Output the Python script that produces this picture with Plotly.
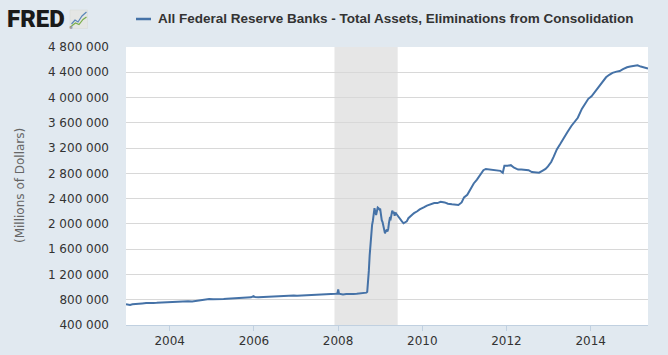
import plotly.graph_objects as go

# ---------------- data ----------------
dates = [
    "2002-12-18", "2003-01-08", "2003-01-22", "2003-02-12", "2003-03-12", "2003-04-09", "2003-05-07",
    "2003-06-11", "2003-07-09", "2003-08-13", "2003-09-10", "2003-10-08", "2003-11-12", "2003-12-10",
    "2004-01-14", "2004-02-11", "2004-03-10", "2004-04-14", "2004-05-12", "2004-06-09", "2004-07-14",
    "2004-08-11", "2004-09-08", "2004-10-13", "2004-11-10", "2004-12-08",
    "2005-01-12", "2005-02-09", "2005-03-09", "2005-04-13", "2005-05-11", "2005-06-08", "2005-07-13",
    "2005-08-10", "2005-09-14", "2005-10-12", "2005-11-09", "2005-12-07", "2005-12-28",
    "2006-01-11", "2006-02-08", "2006-03-08", "2006-04-12", "2006-05-10", "2006-06-14", "2006-07-12",
    "2006-08-09", "2006-09-13", "2006-10-11", "2006-11-08", "2006-12-13",
    "2007-01-10", "2007-02-14", "2007-03-14", "2007-04-11", "2007-05-09", "2007-06-13", "2007-07-11",
    "2007-08-08", "2007-09-12", "2007-10-10", "2007-11-14", "2007-12-12", "2007-12-26",
    "2008-01-02", "2008-01-09", "2008-01-23", "2008-02-13", "2008-03-12", "2008-04-09", "2008-05-14",
    "2008-06-11", "2008-07-09", "2008-08-13", "2008-09-03", "2008-09-10", "2008-09-17", "2008-09-24",
    "2008-10-01", "2008-10-08", "2008-10-15", "2008-10-22", "2008-10-29", "2008-11-05", "2008-11-12",
    "2008-11-19", "2008-11-26", "2008-12-03", "2008-12-10", "2008-12-17", "2008-12-24", "2008-12-31",
    "2009-01-07", "2009-01-14", "2009-01-21", "2009-01-28", "2009-02-04", "2009-02-11", "2009-02-18",
    "2009-02-25", "2009-03-04", "2009-03-11", "2009-03-18", "2009-03-25", "2009-04-01", "2009-04-08",
    "2009-04-15", "2009-04-22", "2009-04-29", "2009-05-06", "2009-05-13", "2009-05-20", "2009-05-27",
    "2009-06-10", "2009-06-24", "2009-07-08", "2009-07-22", "2009-08-05", "2009-08-19", "2009-09-02",
    "2009-09-16", "2009-10-07", "2009-10-21", "2009-11-04", "2009-11-18", "2009-12-09", "2009-12-23",
    "2010-01-13", "2010-02-10", "2010-03-10", "2010-04-14", "2010-05-12", "2010-06-09", "2010-07-14",
    "2010-08-11", "2010-09-15", "2010-10-13", "2010-11-10", "2010-12-08", "2010-12-29",
    "2011-01-26", "2011-02-23", "2011-03-23", "2011-04-20", "2011-05-18", "2011-06-15", "2011-07-06",
    "2011-08-10", "2011-09-07", "2011-10-12", "2011-11-09", "2011-11-30", "2011-12-14",
    "2012-01-11", "2012-02-08", "2012-03-07", "2012-04-11", "2012-05-09", "2012-06-13", "2012-07-11",
    "2012-08-08", "2012-09-12", "2012-10-10", "2012-11-07", "2012-12-05", "2012-12-26",
    "2013-01-23", "2013-02-13", "2013-03-13", "2013-04-10", "2013-05-08", "2013-06-12", "2013-07-17",
    "2013-08-14", "2013-09-11", "2013-10-16", "2013-11-13", "2013-12-11",
    "2014-01-08", "2014-02-12", "2014-03-12", "2014-04-09", "2014-05-14", "2014-06-11", "2014-07-09",
    "2014-08-13", "2014-09-10", "2014-10-08", "2014-11-12", "2014-12-10",
    "2015-01-14", "2015-02-11", "2015-03-11", "2015-04-08", "2015-05-13",
]
total_assets = [
    730000, 722000, 717000, 728000, 736000, 745000, 742000,
    748000, 744000, 750000, 751000, 754000, 757000, 765000,
    761000, 760000, 767000, 771000, 770000, 775000, 772000,
    779000, 786000, 797000, 806000, 812000,
    806000, 804000, 808000, 811000, 814000, 817000, 820000,
    822000, 824000, 827000, 831000, 838000, 858000,
    842000, 838000, 841000, 845000, 847000, 850000, 853000,
    854000, 856000, 858000, 861000, 866000,
    862000, 864000, 868000, 871000, 875000, 879000, 882000,
    884000, 879000, 886000, 889000, 893000, 895000,
    962000, 895000, 888000, 884000, 889000, 887000, 891000,
    895000, 899000, 905000, 912000, 925000, 1050000, 1260000,
    1497000, 1700000, 1850000, 1980000, 2050000, 2120000, 2250000,
    2190000, 2140000, 2200000, 2260000, 2250000, 2230000, 2240000,
    2120000, 2060000, 2030000, 1950000, 1910000, 1850000, 1890000,
    1900000, 1880000, 1920000, 2020000, 2090000, 2080000, 2140000,
    2210000, 2170000, 2190000, 2130000, 2180000, 2160000, 2140000,
    2100000, 2060000, 2040000, 2010000, 2020000, 2040000, 2090000,
    2120000, 2150000, 2170000, 2180000, 2200000, 2230000, 2240000,
    2260000, 2290000, 2310000, 2330000, 2330000, 2350000, 2340000,
    2320000, 2310000, 2300000, 2300000, 2340000, 2420000,
    2460000, 2560000, 2640000, 2700000, 2780000, 2850000, 2870000,
    2860000, 2850000, 2850000, 2840000, 2810000, 2920000,
    2920000, 2930000, 2890000, 2860000, 2860000, 2860000, 2850000,
    2820000, 2810000, 2810000, 2840000, 2870000, 2910000,
    2980000, 3060000, 3180000, 3260000, 3350000, 3450000, 3550000,
    3620000, 3680000, 3820000, 3900000, 3980000,
    4020000, 4100000, 4180000, 4240000, 4320000, 4360000, 4390000,
    4410000, 4420000, 4450000, 4480000, 4490000,
    4500000, 4510000, 4490000, 4480000, 4460000,
]
recession_start = "2007-12-01"
recession_end = "2009-06-01"
series_name = "All Federal Reserve Banks - Total Assets, Eliminations from Consolidation"
y_title = "(Millions of Dollars)"
y_ticks = [400000, 800000, 1200000, 1600000, 2000000, 2400000, 2800000,
           3200000, 3600000, 4000000, 4400000, 4800000]

# ---------------- layout helpers ----------------
W, H = 668, 355
L, R, T, B = 126, 20, 47, 30
PW, PH = W - L - R, H - T - B


def px(x):
    return (x - L) / PW


def py(y):
    return (H - B - y) / PH


fig = go.Figure()
fig.add_trace(go.Scatter(
    x=dates, y=total_assets, mode="lines", name=series_name,
    line=dict(color="#4572A7", width=2), showlegend=False,
    hoverinfo="x+y",
))

shapes = [
    # recession band
    dict(type="rect", xref="x", yref="paper", x0=recession_start, x1=recession_end,
         y0=0, y1=1, fillcolor="#E6E6E6", line=dict(width=0), layer="below"),
    # legend line sample
    dict(type="line", xref="paper", yref="paper", x0=px(136), x1=px(151), y0=py(19), y1=py(19),
         line=dict(color="#4572A7", width=2.5)),
    # logo icon background
    dict(type="rect", xref="paper", yref="paper", x0=px(70), x1=px(87.5), y0=py(28.5), y1=py(10),
         fillcolor="#E4E6E4", line=dict(color="#D6D8D6", width=0.5)),
    # logo icon lines
    dict(type="path", xref="paper", yref="paper",
         path=f"M {px(71.5)},{py(24)} L {px(75)},{py(20)} L {px(78)},{py(22)} L {px(82)},{py(16)} L {px(86.5)},{py(12)}",
         line=dict(color="#5A86B8", width=1.2)),
    dict(type="path", xref="paper", yref="paper",
         path=f"M {px(71.5)},{py(26)} L {px(75.5)},{py(23)} L {px(79)},{py(24.5)} L {px(83)},{py(19.5)} L {px(86.5)},{py(17)}",
         line=dict(color="#7AAE4A", width=1.2)),
]

annotations = [
    dict(text="FRED", xref="paper", yref="paper", x=px(5), y=py(19.5), xanchor="left", yanchor="middle",
         showarrow=False, font=dict(family="Roboto", size=24, color="#1A1A1A", weight=900)),
    dict(text="®", xref="paper", yref="paper", x=px(66.5), y=py(27), xanchor="left", yanchor="middle",
         showarrow=False, font=dict(family="DejaVu Sans", size=4, color="#333")),
    dict(text="<b>" + series_name + "</b>", xref="paper", yref="paper", x=px(156), y=py(18.5),
         xanchor="left", yanchor="middle", showarrow=False,
         font=dict(family="Liberation Sans", size=13.5, color="#333333")),
    dict(text=y_title, xref="paper", yref="paper", x=px(20), y=py(186), xanchor="center", yanchor="middle",
         textangle=-90, showarrow=False,
         font=dict(family="DejaVu Sans", size=12, color="#666666")),
]

fig.update_layout(
    width=W, height=H,
    margin=dict(l=L, r=R, t=T, b=B, pad=0, autoexpand=False),
    paper_bgcolor="#E1E9F0", plot_bgcolor="#FFFFFF",
    separators=". ",
    shapes=shapes, annotations=annotations,
    xaxis=dict(
        type="date", range=["2002-12-18", "2015-05-13"],
        tick0="2004-01-01", dtick="M24", tickformat="%Y",
        showgrid=False, zeroline=False, automargin=False,
        showline=True, linecolor="#C0D0E0", linewidth=1,
        ticks="outside", ticklen=5, tickcolor="#C0D0E0",
        tickfont=dict(family="DejaVu Sans", size=12, color="#333333"),
    ),
    yaxis=dict(
        range=[400000, 4800000], tickvals=y_ticks, tickformat=",d",
        showgrid=True, gridcolor="#D8D8D8", gridwidth=1,
        zeroline=False, showline=False, ticks="", automargin=False,
        ticklabelstandoff=16,
        tickfont=dict(family="DejaVu Sans", size=12, color="#333333"),
    ),
)

fig.write_html(
    "out.html",
    config={"displayModeBar": False},
    post_script="document.body.style.margin='0';document.body.style.background='#E1E9F0';",
)
